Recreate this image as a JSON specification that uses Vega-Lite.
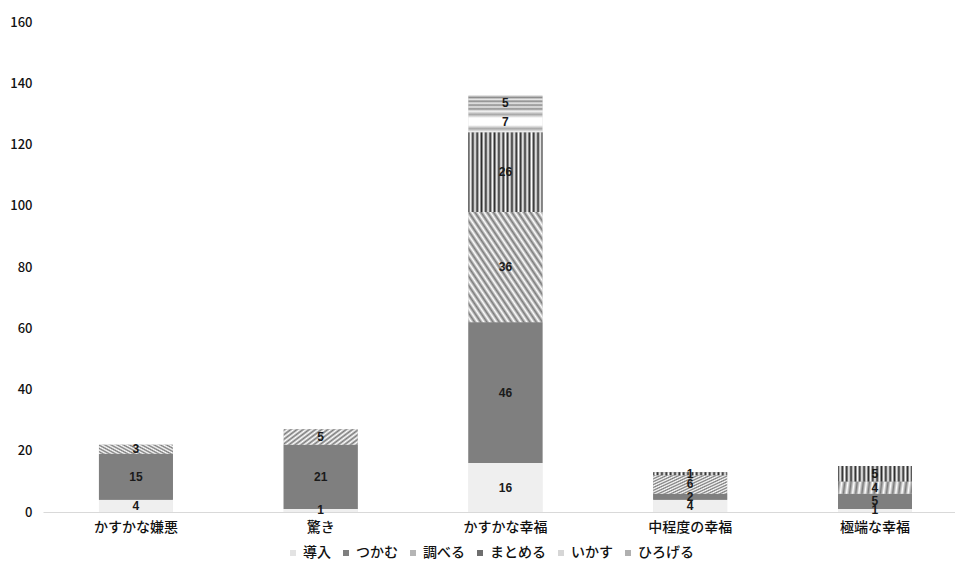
{
  "$schema": "https://vega.github.io/schema/vega-lite/v6.json",
  "width": 912,
  "height": 490,
  "autosize": "none",
  "padding": {"left": 43, "top": 22, "right": 0, "bottom": 52},
  "background": "white",
  "config": {"view": {"stroke": null}, "font": "Noto Sans CJK JP"},
  "data": {
    "values": [
      {"cat": "かすかな嫌悪", "s": "導入", "k": 1, "v": 4},
      {"cat": "かすかな嫌悪", "s": "つかむ", "k": 2, "v": 15},
      {"cat": "かすかな嫌悪", "s": "調べる", "k": 3, "v": 3},
      {"cat": "驚き", "s": "導入", "k": 1, "v": 1},
      {"cat": "驚き", "s": "つかむ", "k": 2, "v": 21},
      {"cat": "驚き", "s": "調べる", "k": 3, "v": 5},
      {"cat": "かすかな幸福", "s": "導入", "k": 1, "v": 16},
      {"cat": "かすかな幸福", "s": "つかむ", "k": 2, "v": 46},
      {"cat": "かすかな幸福", "s": "調べる", "k": 3, "v": 36},
      {"cat": "かすかな幸福", "s": "まとめる", "k": 4, "v": 26},
      {"cat": "かすかな幸福", "s": "いかす", "k": 5, "v": 7},
      {"cat": "かすかな幸福", "s": "ひろげる", "k": 6, "v": 5},
      {"cat": "中程度の幸福", "s": "導入", "k": 1, "v": 4},
      {"cat": "中程度の幸福", "s": "つかむ", "k": 2, "v": 2},
      {"cat": "中程度の幸福", "s": "調べる", "k": 3, "v": 6},
      {"cat": "中程度の幸福", "s": "まとめる", "k": 4, "v": 1},
      {"cat": "極端な幸福", "s": "導入", "k": 1, "v": 1},
      {"cat": "極端な幸福", "s": "つかむ", "k": 2, "v": 5},
      {"cat": "極端な幸福", "s": "調べる", "k": 3, "v": 4},
      {"cat": "極端な幸福", "s": "まとめる", "k": 4, "v": 5}
    ]
  },
  "transform": [
    {"stack": "v", "groupby": ["cat"], "sort": [{"field": "k", "order": "ascending"}], "as": ["y0", "y1"]},
    {"calculate": "(datum.y0 + datum.y1) / 2", "as": "ym"}
  ],
  "encoding": {
    "x": {
      "field": "cat",
      "type": "nominal",
      "sort": ["かすかな嫌悪", "驚き", "かすかな幸福", "中程度の幸福", "極端な幸福"],
      "scale": {"paddingInner": 0.6, "paddingOuter": 0.268, "align": 0.565},
      "axis": {
        "title": null,
        "labelAngle": 0,
        "ticks": false,
        "domainColor": "#d9d9d9",
        "domainWidth": 1,
        "labelPadding": 8,
        "labelFontSize": 14,
        "labelFontWeight": 500,
        "labelColor": "#111111",
        "labelFont": "Noto Sans CJK JP"
      }
    }
  },
  "layer": [
    {
      "mark": {"type": "bar", "strokeWidth": 0},
      "encoding": {
        "y": {
          "field": "y0",
          "type": "quantitative",
          "scale": {"domain": [0, 160], "nice": false},
          "axis": {
            "title": null,
            "values": [0, 20, 40, 60, 80, 100, 120, 140, 160],
            "grid": false,
            "domain": false,
            "ticks": false,
            "labelPadding": 11,
            "labelFontSize": 13,
            "labelFontWeight": 500,
            "labelColor": "#111111",
            "labelFont": "Noto Sans CJK JP"
          }
        },
        "y2": {"field": "y1"},
        "color": {
          "field": "s",
          "type": "nominal",
          "scale": {
            "domain": ["導入", "つかむ", "調べる", "まとめる", "いかす", "ひろげる"],
            "range": ["#e3e3e3", "#7f7f7f", "#b5b5b5", "#6e6e6e", "#d6d6d6", "#b0b0b0"]
          },
          "legend": {
            "title": null,
            "orient": "none",
            "direction": "horizontal",
            "legendX": 243,
            "legendY": 524,
            "symbolType": "square",
            "symbolSize": 36,
            "symbolStrokeWidth": 0,
            "symbolOpacity": 1,
            "labelOffset": 3,
            "columnPadding": 8,
            "labelFontSize": 14,
            "labelFontWeight": 500,
            "labelColor": "#111111",
            "labelFont": "Noto Sans CJK JP"
          }
        }
      }
    },
    {
      "mark": {"type": "bar", "strokeWidth": 0},
      "encoding": {
        "y": {"field": "y0", "type": "quantitative"},
        "y2": {"field": "y1"},
        "fill": {
          "condition": [
            {"test": "datum.s === '調べる'", "value": {"gradient": "linear", "x1": 0, "y1": 1, "x2": 1, "y2": 0, "stops": [
              {"offset": 0, "color": "#7a7a7a"}, {"offset": 0.0208, "color": "#ffffff"},
              {"offset": 0.0417, "color": "#7a7a7a"}, {"offset": 0.0625, "color": "#ffffff"},
              {"offset": 0.0833, "color": "#7a7a7a"}, {"offset": 0.1042, "color": "#ffffff"},
              {"offset": 0.125, "color": "#7a7a7a"}, {"offset": 0.1458, "color": "#ffffff"},
              {"offset": 0.1667, "color": "#7a7a7a"}, {"offset": 0.1875, "color": "#ffffff"},
              {"offset": 0.2083, "color": "#7a7a7a"}, {"offset": 0.2292, "color": "#ffffff"},
              {"offset": 0.25, "color": "#7a7a7a"}, {"offset": 0.2708, "color": "#ffffff"},
              {"offset": 0.2917, "color": "#7a7a7a"}, {"offset": 0.3125, "color": "#ffffff"},
              {"offset": 0.3333, "color": "#7a7a7a"}, {"offset": 0.3542, "color": "#ffffff"},
              {"offset": 0.375, "color": "#7a7a7a"}, {"offset": 0.3958, "color": "#ffffff"},
              {"offset": 0.4167, "color": "#7a7a7a"}, {"offset": 0.4375, "color": "#ffffff"},
              {"offset": 0.4583, "color": "#7a7a7a"}, {"offset": 0.4792, "color": "#ffffff"},
              {"offset": 0.5, "color": "#7a7a7a"}, {"offset": 0.5208, "color": "#ffffff"},
              {"offset": 0.5417, "color": "#7a7a7a"}, {"offset": 0.5625, "color": "#ffffff"},
              {"offset": 0.5833, "color": "#7a7a7a"}, {"offset": 0.6042, "color": "#ffffff"},
              {"offset": 0.625, "color": "#7a7a7a"}, {"offset": 0.6458, "color": "#ffffff"},
              {"offset": 0.6667, "color": "#7a7a7a"}, {"offset": 0.6875, "color": "#ffffff"},
              {"offset": 0.7083, "color": "#7a7a7a"}, {"offset": 0.7292, "color": "#ffffff"},
              {"offset": 0.75, "color": "#7a7a7a"}, {"offset": 0.7708, "color": "#ffffff"},
              {"offset": 0.7917, "color": "#7a7a7a"}, {"offset": 0.8125, "color": "#ffffff"},
              {"offset": 0.8333, "color": "#7a7a7a"}, {"offset": 0.8542, "color": "#ffffff"},
              {"offset": 0.875, "color": "#7a7a7a"}, {"offset": 0.8958, "color": "#ffffff"},
              {"offset": 0.9167, "color": "#7a7a7a"}, {"offset": 0.9375, "color": "#ffffff"},
              {"offset": 0.9583, "color": "#7a7a7a"}, {"offset": 0.9792, "color": "#ffffff"},
              {"offset": 1, "color": "#7a7a7a"}
            ]}},
            {"test": "datum.s === 'まとめる'", "value": {"gradient": "linear", "x1": 0, "y1": 0, "x2": 1, "y2": 0, "stops": [
              {"offset": 0, "color": "#2b2b2b"}, {"offset": 0.0294, "color": "#ffffff"},
              {"offset": 0.0588, "color": "#2b2b2b"}, {"offset": 0.0882, "color": "#ffffff"},
              {"offset": 0.1176, "color": "#2b2b2b"}, {"offset": 0.1471, "color": "#ffffff"},
              {"offset": 0.1765, "color": "#2b2b2b"}, {"offset": 0.2059, "color": "#ffffff"},
              {"offset": 0.2353, "color": "#2b2b2b"}, {"offset": 0.2647, "color": "#ffffff"},
              {"offset": 0.2941, "color": "#2b2b2b"}, {"offset": 0.3235, "color": "#ffffff"},
              {"offset": 0.3529, "color": "#2b2b2b"}, {"offset": 0.3824, "color": "#ffffff"},
              {"offset": 0.4118, "color": "#2b2b2b"}, {"offset": 0.4412, "color": "#ffffff"},
              {"offset": 0.4706, "color": "#2b2b2b"}, {"offset": 0.5, "color": "#ffffff"},
              {"offset": 0.5294, "color": "#2b2b2b"}, {"offset": 0.5588, "color": "#ffffff"},
              {"offset": 0.5882, "color": "#2b2b2b"}, {"offset": 0.6176, "color": "#ffffff"},
              {"offset": 0.6471, "color": "#2b2b2b"}, {"offset": 0.6765, "color": "#ffffff"},
              {"offset": 0.7059, "color": "#2b2b2b"}, {"offset": 0.7353, "color": "#ffffff"},
              {"offset": 0.7647, "color": "#2b2b2b"}, {"offset": 0.7941, "color": "#ffffff"},
              {"offset": 0.8235, "color": "#2b2b2b"}, {"offset": 0.8529, "color": "#ffffff"},
              {"offset": 0.8824, "color": "#2b2b2b"}, {"offset": 0.9118, "color": "#ffffff"},
              {"offset": 0.9412, "color": "#2b2b2b"}, {"offset": 0.9706, "color": "#ffffff"},
              {"offset": 1, "color": "#2b2b2b"}
            ]}},
            {"test": "datum.s === 'いかす'", "value": {"gradient": "linear", "x1": 0, "y1": 0, "x2": 0, "y2": 1, "stops": [
              {"offset": 0, "color": "#ffffff"}, {"offset": 0.1667, "color": "#a8a8a8"},
              {"offset": 0.3333, "color": "#ffffff"}, {"offset": 0.5, "color": "#ffffff"},
              {"offset": 0.6667, "color": "#ffffff"}, {"offset": 0.8333, "color": "#a8a8a8"},
              {"offset": 1, "color": "#ffffff"}
            ]}},
            {"test": "datum.s === 'ひろげる'", "value": {"gradient": "linear", "x1": 0, "y1": 0, "x2": 0, "y2": 1, "stops": [
              {"offset": 0, "color": "#eeeeee"}, {"offset": 0.125, "color": "#8a8a8a"},
              {"offset": 0.25, "color": "#eeeeee"}, {"offset": 0.375, "color": "#8a8a8a"},
              {"offset": 0.5, "color": "#eeeeee"}, {"offset": 0.625, "color": "#8a8a8a"},
              {"offset": 0.75, "color": "#eeeeee"}, {"offset": 0.875, "color": "#8a8a8a"},
              {"offset": 1, "color": "#eeeeee"}
            ]}},
            {"test": "datum.s === 'つかむ'", "value": "#7f7f7f"}
          ],
          "value": "#efefef"
        }
      }
    },
    {
      "mark": {"type": "text", "fontSize": 12, "fontWeight": "bold", "color": "#1a1a1a", "font": "Liberation Sans"},
      "encoding": {
        "y": {"field": "ym", "type": "quantitative"},
        "text": {"field": "v", "type": "quantitative"}
      }
    }
  ]
}
